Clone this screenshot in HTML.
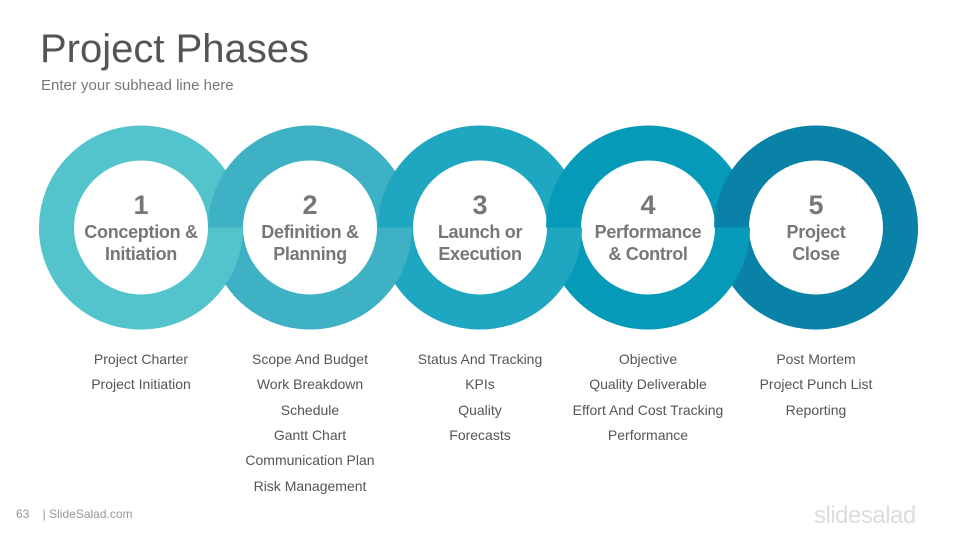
<!DOCTYPE html>
<html><head><meta charset="utf-8"><style>
body{margin:0;width:960px;height:540px;background:#fff;overflow:hidden;font-family:"Liberation Sans",sans-serif;position:relative}
.t{position:absolute;white-space:nowrap}
</style></head><body>
<div class="t" style="left:40px;top:27px;font-size:40px;color:#555">Project Phases</div>
<div class="t" style="left:41px;top:77px;font-size:15px;color:#777">Enter your subhead line here</div>
<svg id="s" width="960" height="540" style="position:absolute;left:0;top:0">
<defs><clipPath id="bot"><rect x="0" y="227.5" width="960" height="320"/></clipPath></defs>
</svg>
<div class="t" style="left:16px;top:507px;font-size:12px;color:#999">63 &nbsp;&nbsp;&nbsp;| SlideSalad.com</div>
<div class="t" style="left:814px;top:502px;font-size:24px;color:#ddd;letter-spacing:-0.5px">slidesalad</div>
<script>
const nums=["1","2","3","4","5"];
const titles=[["Conception &","Initiation"],["Definition &","Planning"],["Launch or","Execution"],["Performance","& Control"],["Project","Close"]];
const items=[["Project Charter","Project Initiation"],["Scope And Budget","Work Breakdown","Schedule","Gantt Chart","Communication Plan","Risk Management"],["Status And Tracking","KPIs","Quality","Forecasts"],["Objective","Quality Deliverable","Effort And Cost Tracking","Performance"],["Post Mortem","Project Punch List","Reporting"]];
const colors=["#53c4cc","#3fb1c4","#1fa6c0","#069ab9","#0a82a8"];
const cx=[141,310,480,648,816],cy=227.5;
const s=document.getElementById('s'),NS='http://www.w3.org/2000/svg';
function ring(i,clip){const c=document.createElementNS(NS,'circle');c.setAttribute('cx',cx[i]);c.setAttribute('cy',cy);c.setAttribute('r',84.5);c.setAttribute('fill','#fff');c.setAttribute('stroke',colors[i]);c.setAttribute('stroke-width',35);if(clip)c.setAttribute('clip-path','url(#bot)');


s.appendChild(c);}
for(let i=0;i<5;i++)ring(i,false);
for(let i=4;i>=0;i--)ring(i,true);
for(let i=0;i<5;i++){
 const n=document.createElement('div');n.className='t';n.textContent=nums[i];
 
 
 n.style.cssText+=`left:${cx[i]-50}px;width:100px;text-align:center;top:190px;font-size:27px;font-weight:bold;color:#777`;
 document.body.appendChild(n);
 const t=document.createElement('div');t.className='t';t.innerHTML=titles[i].join('<br>');
 
 
 t.style.cssText+=`left:${cx[i]-70}px;width:140px;text-align:center;top:221px;font-size:18px;line-height:22px;font-weight:bold;color:#777;letter-spacing:-0.3px`;
 document.body.appendChild(t);
 items[i].forEach((txt,k)=>{const d=document.createElement('div');d.className='t';d.textContent=txt;
 
 
 d.style.cssText+=`left:${cx[i]-90}px;width:180px;text-align:center;top:${351+k*25.3}px;font-size:14px;color:#555`;
 document.body.appendChild(d);});
}
</script>
</body></html>
